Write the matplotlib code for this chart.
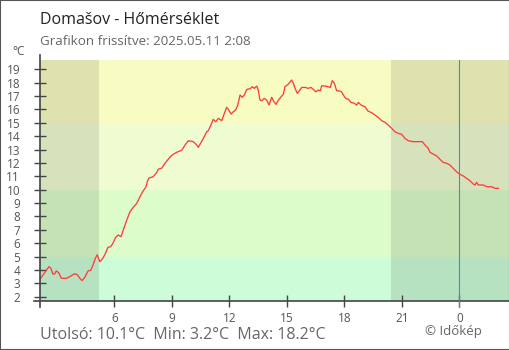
import matplotlib
matplotlib.use("Agg")
import matplotlib.pyplot as plt
import matplotlib.transforms as mtransforms
from matplotlib.patches import Rectangle

plt.rcParams['font.family'] = ['Open Sans', 'DejaVu Sans']

# hours since previous midnight (24 = 0:00 today) and temperature in °C
hours = [2.16, 2.59, 2.68, 2.80, 2.89, 2.97, 3.10, 3.24, 3.50, 3.67, 3.93, 4.07, 4.20, 4.32,
         4.46, 4.63, 4.77, 4.89, 5.01, 5.11, 5.25, 5.36, 5.50, 5.67, 5.81, 5.93, 6.07, 6.21,
         6.35, 6.47, 6.65, 6.82, 6.99, 7.17, 7.34, 7.51, 7.64, 7.74, 7.81, 8.03, 8.21, 8.30,
         8.47, 8.64, 8.91, 9.08, 9.26, 9.52, 9.69, 9.86, 10.12, 10.30, 10.38, 10.52, 10.69,
         10.82, 10.90, 11.04, 11.16, 11.29, 11.43, 11.60, 11.74, 11.86, 11.95, 12.09, 12.21,
         12.33, 12.44, 12.56, 12.68, 12.78, 12.91, 13.08, 13.20, 13.30, 13.43, 13.51, 13.60,
         13.69, 13.82, 13.95, 14.07, 14.21, 14.33, 14.44, 14.56, 14.70, 14.82, 14.90, 15.08,
         15.25, 15.34, 15.43, 15.55, 15.65, 15.78, 15.95, 16.12, 16.26, 16.38, 16.51, 16.64,
         16.75, 16.82, 16.99, 17.16, 17.27, 17.37, 17.48, 17.60, 17.77, 17.86, 17.95, 18.07,
         18.21, 18.35, 18.52, 18.64, 18.73, 18.87, 19.08, 19.22, 19.43, 19.60, 19.77, 19.95,
         20.12, 20.29, 20.47, 20.64, 20.82, 20.99, 21.16, 21.34, 21.60, 22.07, 22.21, 22.38,
         22.47, 22.64, 22.82, 22.99, 23.16, 23.34, 23.51, 23.68, 23.86, 24.00, 24.21, 24.38,
         24.55, 24.73, 24.82, 24.90, 24.99, 25.25, 25.43, 25.69, 25.86, 26.03]
temps = [3.37, 4.24, 4.14, 3.69, 3.69, 3.92, 3.79, 3.37, 3.37, 3.49, 3.71, 3.64, 3.37, 3.2,
         3.44, 3.92, 3.97, 4.36, 4.86, 5.13, 4.61, 4.79, 5.11, 5.69, 5.73, 5.99, 6.43, 6.61,
         6.48, 6.98, 7.73, 8.35, 8.68, 8.98, 9.47, 9.92, 10.17, 10.67, 10.87, 10.97, 11.27, 11.54,
         11.60, 11.97, 12.45, 12.65, 12.8, 12.95, 13.34, 13.66, 13.59, 13.34, 13.17, 13.51, 13.96,
         14.33, 14.41, 14.83, 15.26, 15.08, 15.34, 15.16, 15.71, 16.16, 16.01, 15.66, 15.83,
         15.96, 16.33, 17.08, 16.91, 17.08, 17.5, 17.55, 17.7, 17.58, 17.75, 17.45, 16.7,
         16.65, 16.83, 16.7, 16.33, 16.91, 16.58, 16.38, 16.7, 16.95, 17.15, 17.7, 17.9,
         18.2, 17.95, 17.58, 17.2, 17.4, 17.65, 17.65, 17.58, 17.65, 17.5, 17.32, 17.45,
         17.4, 17.77, 17.75, 17.7, 17.65, 18.15, 17.95, 17.4, 17.38, 17.32, 17.08, 16.83,
         16.76, 16.53, 16.46, 16.33, 16.53, 16.33, 16.2, 15.9, 15.75, 15.58, 15.41, 15.16,
         15.04, 14.83, 14.59, 14.33, 14.21, 14.14, 13.84, 13.66, 13.59, 13.59, 13.34, 13.09,
         12.79, 12.66, 12.52, 12.27, 12.04, 11.97, 11.84, 11.6, 11.34, 11.17, 11.02, 10.85,
         10.67, 10.42, 10.35, 10.55, 10.35, 10.35, 10.22, 10.22, 10.1, 10.1]

xticks = [6, 9, 12, 15, 18, 21, 24]
xtick_labels = ['6', '9', '12', '15', '18', '21', '0']
yticks = list(range(2, 20))

# temperature bands (lower, upper, colour)
bands = [(-10, 5, '#ccfcd8'), (5, 10, '#dcfcc9'), (10, 15, '#effcd2'), (15, 25, '#f7fcc2')]
sunrise, sunset = 5.2, 20.45
last, tmin, tmax = 10.1, 3.2, 18.2

x0, x1 = 2.124, 26.59
y0, y1 = 1.71, 19.70

fig = plt.figure(figsize=(5.1, 3.5), dpi=100)
ax = fig.add_axes([40 / 510, (350 - 300.5) / 350, 469 / 510, 240.5 / 350])
ax.set_xlim(x0, x1)
ax.set_ylim(y0, y1)

for lo, hi, col in bands:
    ax.axhspan(lo, hi, color=col, lw=0, zorder=0)
# night shading
ax.axvspan(x0, sunrise, color='black', alpha=0.1, lw=0, zorder=0.5)
ax.axvspan(sunset, x1, color='black', alpha=0.1, lw=0, zorder=0.5)

ax.plot(hours, temps, color='#ff3c3c', lw=0.95, zorder=4)

for s in ax.spines.values():
    s.set_visible(False)

axcol = '#444444'
# axis lines, running a little past the plot corner
ax.plot([0, 0], [-0.025, 1.022], transform=ax.transAxes, color=axcol, lw=1.2,
        clip_on=False, zorder=5)
ax.plot([-0.013, 1.0], [0, 0], transform=ax.transAxes, color=axcol, lw=1.2,
        clip_on=False, zorder=5)

# midnight marker
trans = mtransforms.blended_transform_factory(ax.transData, ax.transAxes)
ax.plot([24, 24], [-0.026, 1.0], transform=trans, color='#3a8fd4', lw=0.8,
        clip_on=False, zorder=6)

ax.set_xticks(xticks)
ax.set_xticklabels(xtick_labels)
ax.set_yticks(yticks)
ax.tick_params(direction='inout', length=8.6, width=1, color=axcol,
               labelcolor='#555555', labelsize=8.5)
ax.tick_params(axis='y', pad=10)
ax.tick_params(axis='x', pad=4)

fig.text(40 / 510, 1 - 24 / 350, 'Domašov - Hőmérséklet', fontsize=11.5,
         color='#222222', va='baseline')
fig.text(40 / 510, 1 - 45 / 350, 'Grafikon frissítve: 2025.05.11 2:08', fontsize=9.6,
         color='#666666', va='baseline')
fig.text(12 / 510, 1 - 55 / 350, '°C', fontsize=8.5, color='#555555', va='baseline')
fig.text(40 / 510, 1 - 339 / 350,
         f'Utolsó: {last}°C  Min: {tmin}°C  Max: {tmax}°C',
         fontsize=11.5, color='#666666', va='baseline')
fig.text(425 / 510, 1 - 335 / 350, '© Időkép', fontsize=9.5, color='#666666',
         va='baseline')

fig.patches.append(Rectangle((0, 0), 1, 1, transform=fig.transFigure, fill=False,
                             edgecolor='#555555', lw=1.5))

fig.savefig('out.png', dpi=100)
